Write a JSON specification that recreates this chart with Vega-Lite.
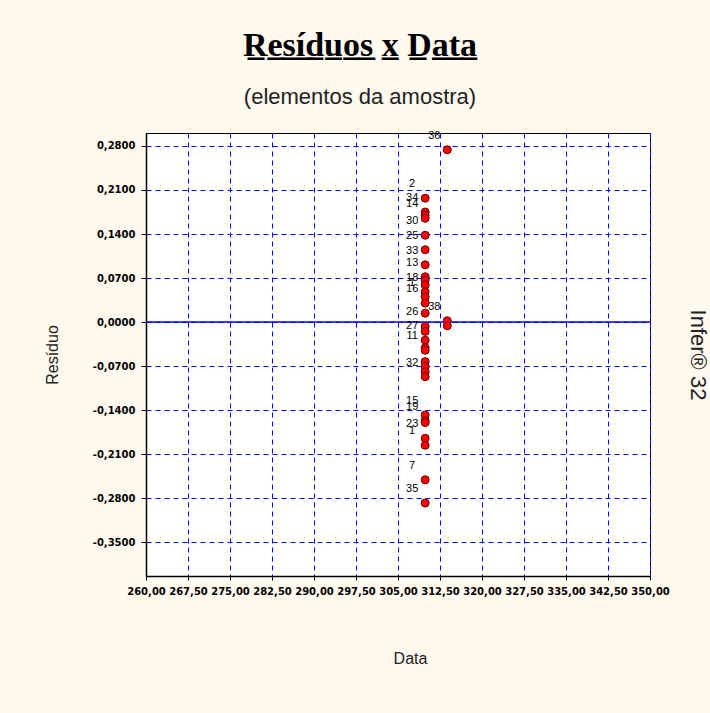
{
  "$schema": "https://vega.github.io/schema/vega-lite/v6.json",
  "width": 504,
  "height": 443,
  "autosize": {"type": "none"},
  "padding": {"left": 146, "top": 133, "right": 60, "bottom": 137},
  "background": "#FFF9EE",
  "config": {
    "locale": {"number": {"decimal": ",", "thousands": ".", "grouping": [3], "currency": ["R$ ", ""], "minus": "-"}},
    "view": {"fill": "#FFFFFF", "stroke": "#000000", "strokeWidth": 1},
    "font": "Liberation Sans"
  },
  "title": {
    "text": "R\u0332e\u0332s\u0332\u00ed\u0332d\u0332u\u0332o\u0332s\u0332 x\u0332 D\u0332a\u0332t\u0332a\u0332",
    "subtitle": "(elementos da amostra)",
    "anchor": "middle",
    "frame": "group",
    "dx": -38,
    "offset": 22,
    "font": "Liberation Serif",
    "fontSize": 34,
    "fontWeight": "bold",
    "color": "#000000",
    "subtitleFont": "Liberation Sans",
    "subtitleFontSize": 22,
    "subtitleColor": "#222222",
    "subtitlePadding": 24
  },
  "datasets": {
    "zero": [{"residuo": 0}],
    "residuos": [
      {"data": 313.8, "residuo": 0.274, "id": "36"},
      {"data": 313.8, "residuo": 0.002, "id": "38"},
      {"data": 313.8, "residuo": -0.006, "id": ""},
      {"data": 309.85, "residuo": 0.197, "id": "2"},
      {"data": 309.85, "residuo": 0.175, "id": "34"},
      {"data": 309.85, "residuo": 0.170, "id": ""},
      {"data": 309.85, "residuo": 0.165, "id": "14"},
      {"data": 309.85, "residuo": 0.138, "id": "30"},
      {"data": 309.85, "residuo": 0.115, "id": "25"},
      {"data": 309.85, "residuo": 0.091, "id": "33"},
      {"data": 309.85, "residuo": 0.072, "id": "13"},
      {"data": 309.85, "residuo": 0.067, "id": ""},
      {"data": 309.85, "residuo": 0.059, "id": ""},
      {"data": 309.85, "residuo": 0.048, "id": "18"},
      {"data": 309.85, "residuo": 0.040, "id": "1"},
      {"data": 309.85, "residuo": 0.030, "id": "16"},
      {"data": 309.85, "residuo": 0.014, "id": ""},
      {"data": 309.85, "residuo": -0.007, "id": "26"},
      {"data": 309.85, "residuo": -0.015, "id": ""},
      {"data": 309.85, "residuo": -0.029, "id": "27"},
      {"data": 309.85, "residuo": -0.041, "id": ""},
      {"data": 309.85, "residuo": -0.045, "id": "11"},
      {"data": 309.85, "residuo": -0.063, "id": ""},
      {"data": 309.85, "residuo": -0.071, "id": ""},
      {"data": 309.85, "residuo": -0.079, "id": ""},
      {"data": 309.85, "residuo": -0.087, "id": "32"},
      {"data": 309.85, "residuo": -0.148, "id": "15"},
      {"data": 309.85, "residuo": -0.157, "id": "19"},
      {"data": 309.85, "residuo": -0.160, "id": ""},
      {"data": 309.85, "residuo": -0.185, "id": "23"},
      {"data": 309.85, "residuo": -0.196, "id": "1"},
      {"data": 309.85, "residuo": -0.251, "id": "7"},
      {"data": 309.85, "residuo": -0.288, "id": "35"}
    ]
  },
  "resolve": {"axis": {"y": "independent"}},
  "layer": [
    {
      "data": {"name": "residuos"},
      "mark": {"type": "point", "opacity": 0},
      "encoding": {
        "x": {
          "field": "data", "type": "quantitative",
          "scale": {"domain": [260, 350], "nice": false, "zero": false},
          "axis": {
            "values": [260, 267.5, 275, 282.5, 290, 297.5, 305, 312.5, 320, 327.5, 335, 342.5, 350],
            "format": ".2f",
            "grid": true, "gridColor": "#0000FF", "gridDash": [5, 4], "gridWidth": 1, "gridOpacity": 1,
            "domainColor": "#000000", "domainWidth": 1.5,
            "tickColor": "#000000", "tickSize": 4,
            "labelFont": "DejaVu Sans", "labelFontSize": 10, "labelFontWeight": "bold", "labelColor": "#000000", "labelPadding": 6,
            "labelOverlap": false, "labelFlush": false,
            "title": "Data", "titleFontSize": 16, "titleFontWeight": "normal", "titleColor": "#222222",
            "titlePadding": 54, "titleX": 264
          }
        },
        "y": {
          "field": "residuo", "type": "quantitative",
          "scale": {"domain": [-0.40408, 0.30068], "nice": false, "zero": false},
          "axis": {
            "values": [-0.35, -0.28, -0.21, -0.14, -0.07, 0, 0.07, 0.14, 0.21, 0.28],
            "format": ".4f",
            "grid": true, "gridColor": "#0000FF", "gridDash": [5, 4], "gridWidth": 1, "gridOpacity": 1,
            "domainColor": "#000000", "domainWidth": 1.5,
            "tickColor": "#000000", "tickSize": 5,
            "labelFont": "DejaVu Sans", "labelFontSize": 10, "labelFontWeight": "bold", "labelColor": "#000000", "labelPadding": 6,
            "labelFlush": false,
            "title": "Resíduo", "titleFontSize": 16, "titleFontWeight": "normal", "titleColor": "#222222",
            "titlePadding": 32
          }
        }
      }
    },
    {
      "data": {"name": "zero"},
      "mark": {"type": "rule", "color": "#0000FF", "strokeWidth": 1.5},
      "encoding": {
        "y": {"field": "residuo", "type": "quantitative", "axis": null}
      }
    },
    {
      "data": {"name": "residuos"},
      "transform": [{"filter": "datum.id != ''"}],
      "mark": {"type": "text", "dx": -13, "dy": -14, "fontSize": 11, "color": "#000000", "align": "center", "baseline": "middle"},
      "encoding": {
        "x": {"field": "data", "type": "quantitative"},
        "y": {
          "field": "residuo", "type": "quantitative",
          "axis": {
            "orient": "right", "labels": false, "ticks": false, "domain": false, "grid": false,
            "title": "Infer® 32", "titleAngle": 90, "titleFontSize": 22, "titleFontWeight": "normal",
            "titleColor": "#222222", "titlePadding": 35
          }
        },
        "text": {"field": "id", "type": "nominal"}
      }
    },
    {
      "data": {"name": "residuos"},
      "mark": {"type": "point", "filled": true, "fill": "#FF0000", "stroke": "#600000", "strokeWidth": 1, "size": 64, "opacity": 1},
      "encoding": {
        "x": {"field": "data", "type": "quantitative"},
        "y": {"field": "residuo", "type": "quantitative", "axis": null}
      }
    }
  ]
}
